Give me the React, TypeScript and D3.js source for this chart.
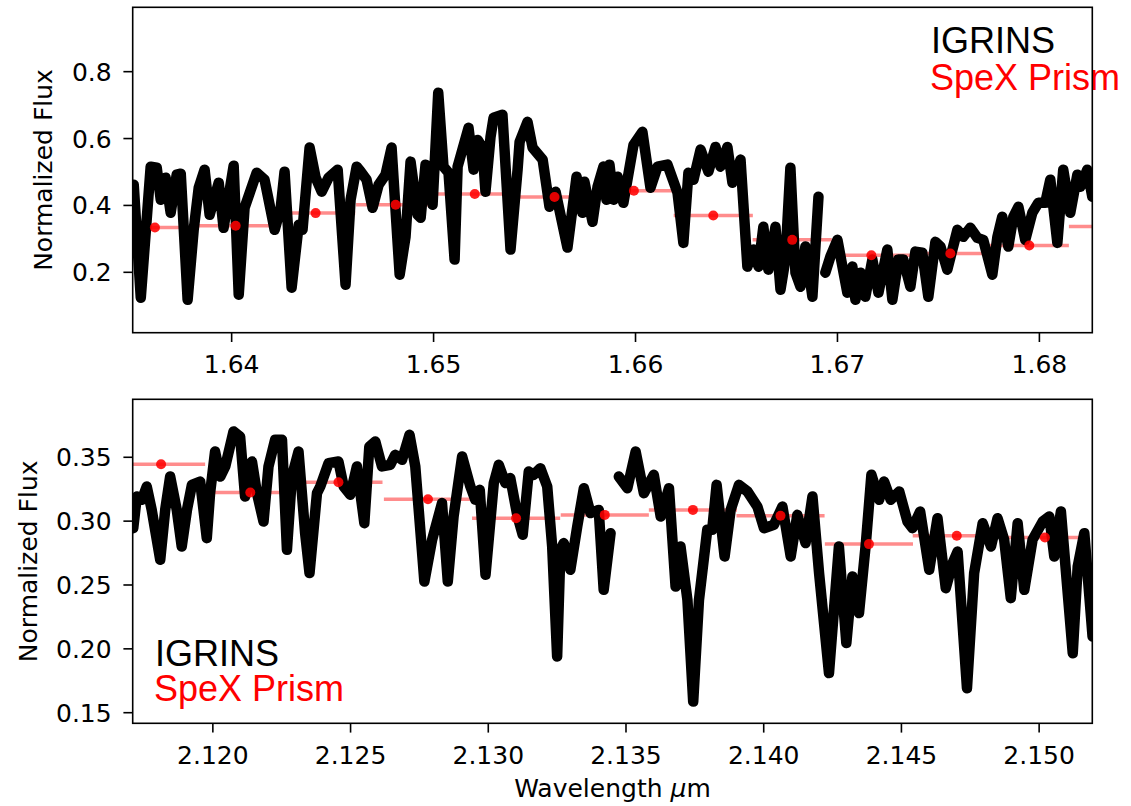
import React from 'react';
import * as d3 from 'd3';

// ---------------- DATA ----------------
// Top panel (H band) IGRINS spectrum; null marks a gap in the data
const topWavelength = [
  1.63515,1.63550,1.63599,1.63629,1.63649,1.63673,1.63698,1.63728,1.63748,1.63782,
  1.63812,1.63837,1.63866,1.63891,1.63936,1.63960,1.64010,1.64035,1.64064,1.64124,
  1.64163,1.64193,1.64213,1.64243,1.64262,1.64297,1.64332,1.64351,1.64386,1.64416,
  1.64446,1.64480,1.64525,1.64564,1.64589,1.64619,1.64639,1.64668,1.64698,1.64728,
  1.64762,1.64792,1.64832,1.64861,1.64886,1.64921,1.64936,1.64960,1.64995,1.65023,
  1.65049,1.65074,1.65104,1.65119,1.65173,1.65198,1.65218,1.65242,1.65257,1.65282,
  1.65297,1.65341,1.65381,1.65416,1.65426,1.65465,1.65490,1.65540,1.65574,1.65604,
  1.65663,1.65708,1.65737,1.65747,1.65787,1.65812,1.65841,1.65856,1.65871,1.65891,
  1.65911,1.65940,1.65960,1.65990,1.66034,1.66074,1.66109,1.66158,1.66208,1.66237,
  1.66262,1.66287,1.66322,1.66361,1.66396,1.66421,1.66455,1.66480,1.66520,1.66554,
  1.66584,1.66609,1.66633,1.66658,1.66693,1.66718,1.66742,1.66767,1.66792,1.66817,
  1.66841,1.66876,1.66906,
  1.66923,
  1.66940,1.66965,1.67000,1.67020,1.67049,1.67074,1.67089,1.67114,1.67138,1.67173,
  1.67203,1.67247,1.67272,1.67302,1.67326,1.67361,1.67386,1.67420,1.67450,1.67485,
  1.67510,1.67544,1.67594,1.67623,1.67658,1.67693,1.67722,1.67767,1.67792,1.67816,
  1.67846,1.67871,1.67896,1.67930,1.67965,1.67995,1.68029,1.68054,1.68089,1.68118,
  1.68153,1.68188,1.68203,1.68237,1.68262,
];
const topFlux = [
  0.462,0.124,0.516,0.513,0.417,0.483,0.378,0.492,0.495,0.118,
  0.327,0.453,0.507,0.372,0.468,0.333,0.519,0.133,0.393,0.498,
  0.477,0.387,0.327,0.393,0.501,0.154,0.342,0.327,0.573,0.483,
  0.441,0.483,0.507,0.163,0.417,0.516,0.501,0.477,0.393,0.462,
  0.492,0.573,0.193,0.306,0.531,0.372,0.363,0.522,0.402,0.737,
  0.516,0.498,0.238,0.516,0.632,0.507,0.596,0.573,0.441,0.605,
  0.662,0.671,0.268,0.507,0.590,0.650,0.573,0.537,0.396,0.441,
  0.274,0.486,0.378,0.471,0.351,0.456,0.516,0.417,0.522,0.417,
  0.486,0.408,0.477,0.581,0.620,0.453,0.516,0.522,0.438,0.288,
  0.498,0.477,0.567,0.501,0.575,0.516,0.575,0.468,0.537,0.217,
  0.268,0.217,0.336,0.208,0.336,0.148,0.238,0.513,0.199,0.157,
  0.277,0.127,0.426,
  null,
  0.199,0.247,0.297,0.232,0.139,0.217,0.118,0.199,0.127,0.238,
  0.139,0.268,0.118,0.238,0.238,0.157,0.262,0.259,0.127,0.291,
  0.277,0.208,0.327,0.306,0.333,0.303,0.297,0.193,0.306,0.366,
  0.277,0.366,0.396,0.297,0.378,0.408,0.408,0.477,0.288,0.507,
  0.378,0.492,0.456,0.507,0.426,
];
const topSpexWavelength = [1.63620,1.64020,1.64416,1.64812,1.65204,1.65599,1.65992,1.66385,1.66776,1.67168,1.67559,1.67950,1.68342];
const topSpexFlux = [0.334,0.339,0.377,0.402,0.434,0.425,0.444,0.370,0.297,0.251,0.256,0.280,0.337];
const topSpexHalfWidth = 0.00196;

// Bottom panel (K band)
const bottomWavelength = [
  2.11711,2.11724,2.11742,2.11760,2.11778,2.11809,2.11827,2.11845,2.11869,2.11887,
  2.11906,2.11924,2.11954,2.11978,2.11990,2.12008,2.12027,2.12045,2.12075,2.12099,
  2.12117,2.12142,2.12160,2.12184,2.12202,2.12226,2.12251,2.12269,2.12287,2.12311,
  2.12335,2.12351,2.12378,2.12390,2.12420,2.12456,2.12475,2.12499,2.12523,2.12550,
  2.12568,
  2.12590,2.12614,2.12644,2.12662,2.12687,2.12714,2.12735,2.12768,
  2.12796,2.12832,2.12853,2.12874,2.12905,2.12935,2.12953,2.12969,2.12990,2.13020,
  2.13038,2.13062,2.13080,2.13105,2.13125,2.13147,2.13165,2.13189,2.13214,2.13232,
  2.13250,2.13262,2.13274,2.13298,2.13323,2.13347,2.13371,2.13401,2.13419,2.13444,
  2.13459,
  2.13474,2.13505,2.13535,2.13565,2.13601,2.13626,2.13656,2.13680,2.13698,2.13723,
  2.13744,2.13765,2.13795,2.13813,2.13829,2.13858,2.13880,2.13910,2.13941,2.13977,
  2.14001,2.14037,2.14068,2.14098,2.14122,2.14152,2.14177,2.14201,2.14237,2.14273,
  2.14300,2.14322,2.14346,2.14371,2.14391,2.14419,2.14437,2.14461,2.14492,2.14522,
  2.14540,2.14568,2.14601,2.14631,2.14661,2.14686,2.14704,2.14738,2.14764,2.14795,
  2.14825,2.14849,2.14873,2.14897,2.14922,2.14946,2.14976,2.15013,2.15037,2.15055,
  2.15079,2.15122,2.15140,2.15164,2.15194,
];
const bottomFlux = [
  0.2945,0.3193,0.3167,0.3271,0.3088,0.2697,0.3088,0.3349,0.3088,0.2801,
  0.3088,0.3284,0.3310,0.2867,0.3219,0.3545,0.3349,0.3428,0.3702,0.3662,
  0.3193,0.3467,0.3219,0.2997,0.3428,0.3637,0.3637,0.2775,0.3349,0.3545,
  0.2906,0.2593,0.3219,0.3271,0.3454,0.3467,0.3271,0.3206,0.3428,0.2984,
  0.3582,
  0.3623,0.3428,0.3441,0.3519,0.3480,0.3676,0.3428,0.2527,
  0.2854,0.3141,0.2527,0.3036,0.3506,0.3271,0.3167,0.3245,0.2580,0.3298,
  0.3441,0.3298,0.3337,0.3049,0.2893,0.3388,0.3363,0.3415,0.3271,0.2801,
  0.1940,0.2775,0.2828,0.2619,0.2958,0.3258,0.3063,0.3088,0.2462,0.2906,
  null,
  0.3349,0.3258,0.3545,0.3219,0.3363,0.3036,0.3258,0.2488,0.2801,0.2384,
  0.1587,0.2384,0.2932,0.2932,0.3284,0.2723,0.3088,0.3284,0.3232,0.3114,
  0.2945,0.2971,0.3114,0.2723,0.3049,0.2828,0.3193,0.2593,0.1810,0.2801,
  0.2045,0.2566,0.2280,0.2828,0.3363,0.3167,0.3310,0.3167,0.3232,0.2997,
  0.2945,0.3075,0.2619,0.3023,0.2475,0.2671,0.2762,0.1692,0.2593,0.2984,
  0.2801,0.3023,0.2854,0.2397,0.2984,0.2462,0.2854,0.2997,0.3036,0.2723,
  0.3075,0.1966,0.2645,0.2906,0.2096,
];
const bottomSpexWavelength = [2.11812,2.12136,2.12456,2.12781,2.13101,2.13423,2.13743,2.14061,2.14382,2.14701,2.15021];
const bottomSpexFlux = [0.3446,0.3224,0.3305,0.3172,0.3023,0.3049,0.3088,0.3042,0.2820,0.2885,0.2872];
const bottomSpexHalfWidth = 0.0016;

const topXTicks = [1.64, 1.65, 1.66, 1.67, 1.68];
const topYTicks = [0.2, 0.4, 0.6, 0.8];
const bottomXTicks = [2.12, 2.125, 2.13, 2.135, 2.14, 2.145, 2.15];
const bottomYTicks = [0.15, 0.2, 0.25, 0.3, 0.35];

const legendLabels = ['IGRINS', 'SpeX Prism'];
const xLabel = 'Wavelength';
const yLabel = 'Normalized Flux';

// ---------------- DRAWING ----------------
const FONT = '"DejaVu Sans", sans-serif';
const LEGEND_FONT = '"Liberation Sans", Arial, sans-serif';
const TICK_FS = 25;

type PanelProps = {
  id: string;
  left: number; right: number; top: number; bottom: number;
  xDomain: [number, number]; yDomain: [number, number];
  wl: number[]; flux: (number | null)[];
  spexWl: number[]; spexFlux: number[]; spexHalf: number;
  xTicks: number[]; yTicks: number[];
  xFmt: (v: number) => string; yFmt: (v: number) => string;
  legendX: number; legendY: number; legendGap: number;
  yLabelX: number;
};

function Panel(p: PanelProps) {
  const xs = d3.scaleLinear().domain(p.xDomain).range([p.left, p.right]);
  const ys = d3.scaleLinear().domain(p.yDomain).range([p.bottom, p.top]);
  const pts = p.wl.map((w, i) => [w, p.flux[i]] as [number, number | null]);
  const line = d3.line<[number, number | null]>()
    .defined(d => d[1] != null)
    .x(d => xs(d[0]))
    .y(d => ys(d[1] as number));
  const clipId = 'clip-' + p.id;
  const tickLen = 9.3;
  return (
    <g>
      <defs>
        <clipPath id={clipId}>
          <rect x={p.left} y={p.top} width={p.right - p.left} height={p.bottom - p.top} />
        </clipPath>
      </defs>
      <g clipPath={`url(#${clipId})`}>
        {p.spexWl.map((w, i) => (
          <line key={'e' + i} x1={xs(w - p.spexHalf)} x2={xs(w + p.spexHalf)}
            y1={ys(p.spexFlux[i])} y2={ys(p.spexFlux[i])}
            stroke="rgba(255,0,0,0.45)" strokeWidth={3.5} />
        ))}
        <path d={line(pts) || ''} fill="none" stroke="#000" strokeWidth={10.5}
          strokeLinejoin="round" strokeLinecap="round" />
        {p.spexWl.map((w, i) => (
          <circle key={'c' + i} cx={xs(w)} cy={ys(p.spexFlux[i])} r={5}
            fill="#ff0000" fillOpacity={0.88} />
        ))}
      </g>
      {/* legend */}
      <text x={p.legendX} y={p.legendY} fontFamily={LEGEND_FONT}
        fontSize={36} fill="#000">{legendLabels[0]}</text>
      <text x={p.legendX - 1} y={p.legendY + p.legendGap} fontFamily={LEGEND_FONT}
        fontSize={36} fill="#ff0000">{legendLabels[1]}</text>
      {/* frame */}
      <rect x={p.left} y={p.top} width={p.right - p.left} height={p.bottom - p.top}
        fill="none" stroke="#000" strokeWidth={1.6} />
      {/* x ticks */}
      {p.xTicks.map((t, i) => (
        <g key={'xt' + i}>
          <line x1={xs(t)} x2={xs(t)} y1={p.bottom} y2={p.bottom + tickLen} stroke="#000" strokeWidth={1.6} />
          <text x={xs(t)} y={p.bottom + 40.6} textAnchor="middle" fontFamily={FONT} fontSize={TICK_FS} fill="#000">{p.xFmt(t)}</text>
        </g>
      ))}
      {/* y ticks */}
      {p.yTicks.map((t, i) => (
        <g key={'yt' + i}>
          <line x1={p.left - tickLen} x2={p.left} y1={ys(t)} y2={ys(t)} stroke="#000" strokeWidth={1.6} />
          <text x={p.left - 21} y={ys(t)} dy="0.36em" textAnchor="end" fontFamily={FONT} fontSize={TICK_FS} fill="#000">{p.yFmt(t)}</text>
        </g>
      ))}
      <text transform={`translate(${p.yLabelX},${(p.top + p.bottom) / 2}) rotate(-90)`} textAnchor="middle"
        fontFamily={FONT} fontSize={TICK_FS} fill="#000">{yLabel}</text>
    </g>
  );
}

export default function App() {
  const f2 = d3.format('.2f');
  const f3 = d3.format('.3f');
  const f1 = d3.format('.1f');
  return (
    <svg width={1131} height={806} style={{ position: 'absolute', left: 0, top: 0, background: '#fff' }}>
      <rect x={0} y={0} width={1131} height={806} fill="#fff" />
      <Panel id="top" left={132.7} right={1092.3} top={7.3} bottom={332.7}
        xDomain={[1.6351, 1.68262]} yDomain={[0.0194, 0.9925]}
        wl={topWavelength} flux={topFlux}
        spexWl={topSpexWavelength} spexFlux={topSpexFlux} spexHalf={topSpexHalfWidth}
        xTicks={topXTicks} yTicks={topYTicks} xFmt={f2} yFmt={f1}
        legendX={931} legendY={53} legendGap={37} yLabelX={52} />
      <Panel id="bottom" left={132.7} right={1092.3} top={399.3} bottom={723.3}
        xDomain={[2.11709, 2.15193]} yDomain={[0.1417, 0.3954]}
        wl={bottomWavelength} flux={bottomFlux}
        spexWl={bottomSpexWavelength} spexFlux={bottomSpexFlux} spexHalf={bottomSpexHalfWidth}
        xTicks={bottomXTicks} yTicks={bottomYTicks} xFmt={f3} yFmt={f2}
        legendX={155} legendY={666} legendGap={35} yLabelX={37} />
      <text x={612.5} y={797} textAnchor="middle" fontFamily={FONT} fontSize={TICK_FS} fill="#000">
        {xLabel} <tspan fontStyle="italic">μ</tspan>m
      </text>
    </svg>
  );
}
